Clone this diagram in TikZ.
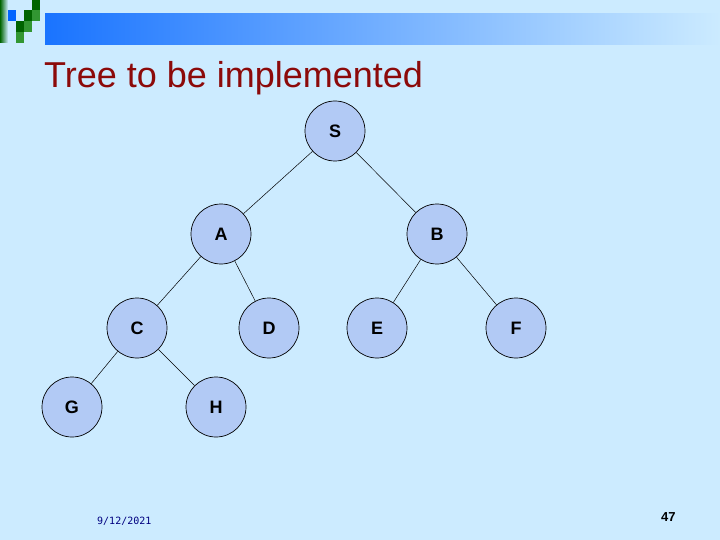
\documentclass[tikz,border=0pt]{standalone}
\usepackage{fontspec}
\setmainfont{Liberation Sans}
\newfontfamily\monof{DejaVu Sans Mono}
\definecolor{bg}{RGB}{204,235,255}
\definecolor{nodefill}{RGB}{178,202,245}
\definecolor{titlered}{RGB}{140,10,10}
\definecolor{dgreen}{RGB}{0,100,0}
\definecolor{mgreen}{RGB}{50,150,50}
\definecolor{bblue}{RGB}{0,100,255}
\begin{document}
\begin{tikzpicture}[x=1pt,y=-1pt,
  tnode/.style={circle,draw=black,line width=0.7pt,fill=nodefill,minimum size=60pt,inner sep=0pt,font=\fontsize{18}{18}\selectfont\bfseries},
  edge/.style={draw=black,line width=0.5pt}]
\fill[bg] (0,0) rectangle (720,540);
\useasboundingbox (0,0) rectangle (720,540);
% banner
\shade[left color=bblue!90!white, right color=bg] (45,14) rectangle (720,45);
\shade[left color=dgreen, right color=bg] (0,0) rectangle (8,43);
\fill[dgreen] (32,0) rectangle (40,10);
\fill[bblue] (8,10) rectangle (16,21);
\fill[dgreen] (24,10) rectangle (32,21);
\fill[mgreen] (32,10) rectangle (40,21);
\fill[dgreen] (16,21) rectangle (24,32);
\fill[mgreen] (24,21) rectangle (32,32);
\fill[mgreen] (16,32) rectangle (24,43);
% title
\node[anchor=base west,inner sep=0pt,text=titlered,font=\fontsize{36}{36}\selectfont] (title) at (44,88) {Tree to be implemented};
% nodes
\node[tnode] (S) at (335,131) {S};
\node[tnode] (A) at (221,234) {A};
\node[tnode] (B) at (437,234) {B};
\node[tnode] (C) at (137,328) {C};
\node[tnode] (D) at (269,328) {D};
\node[tnode] (E) at (377,328) {E};
\node[tnode] (F) at (516,328) {F};
\node[tnode] (G) at (72,407) {G};
\node[tnode] (H) at (216,407) {H};
\draw[edge] (S) -- (A);
\draw[edge] (S) -- (B);
\draw[edge] (A) -- (C);
\draw[edge] (A) -- (D);
\draw[edge] (B) -- (E);
\draw[edge] (B) -- (F);
\draw[edge] (C) -- (G);
\draw[edge] (C) -- (H);
% footer
\node[anchor=base west,inner sep=0pt,text=blue!50!black,font=\monof\fontsize{10}{10}\selectfont] (date) at (97,524) {9/12/2021};
\node[anchor=base west,inner sep=0pt,font=\fontsize{13}{13}\selectfont\bfseries] (pg) at (661,521) {47};
\end{tikzpicture}
\end{document}
